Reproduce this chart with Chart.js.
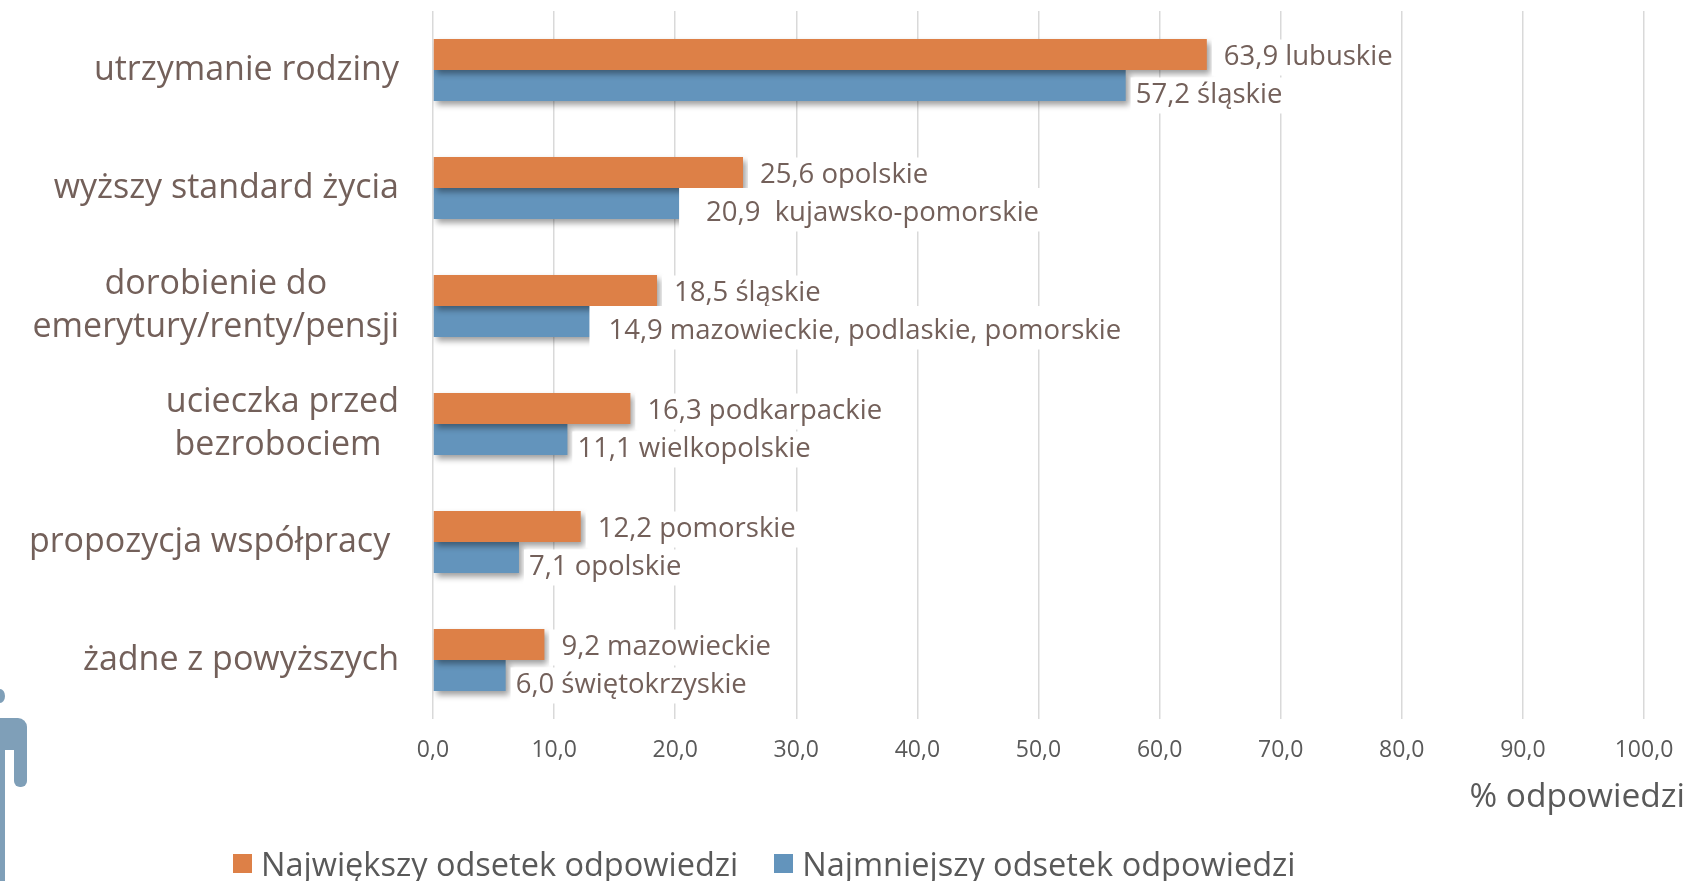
<!DOCTYPE html>
<html lang="pl">
<head>
<meta charset="utf-8">
<title>Powody podjęcia pracy</title>
<script src="https://cdn.jsdelivr.net/npm/chart.js@4.4.1/dist/chart.umd.min.js"></script>
<style>
	body { margin: 0; background: #fff; }
	#wrap { position: relative; width: 1703px; height: 881px; }
	#legend { position: absolute; left: 233px; top: 841px; display: flex; font-family: "Open Sans", sans-serif; font-size: 32.5px; color: #595959; white-space: nowrap; }
	.item { display: flex; align-items: center; margin-right: 36px; }
	.box { width: 19px; height: 19px; margin-right: 9px; }
</style>
</head>
<body>
<div id="wrap">
	<canvas id="chart" width="1703" height="881"></canvas>
	<div id="legend"></div>
</div>
<script>
// **DANE**
const categories = [
	['utrzymanie rodziny'],
	['wyższy standard życia'],
	['dorobienie do', 'emerytury/renty/pensji'],
	['ucieczka przed', 'bezrobociem '],
	['propozycja współpracy '],
	['żadne z powyższych']
];
const seriesNames = ['Największy odsetek odpowiedzi', 'Najmniejszy odsetek odpowiedzi'];
const maxValues = [63.9, 25.6, 18.5, 16.3, 12.2, 9.2];
const minValues = [57.2, 20.9, 14.9, 11.1, 7.1, 6.0];
const maxRegions = ['lubuskie', 'opolskie', 'śląskie', 'podkarpackie', 'pomorskie', 'mazowieckie'];
const minRegions = ['śląskie', ' kujawsko-pomorskie', 'mazowieckie, podlaskie, pomorskie', 'wielkopolskie', 'opolskie', 'świętokrzyskie'];
const axisMin = 0;
const axisMax = 100;
const axisStep = 10;
const axisTitle = '% odpowiedzi';

const ORANGE = '#dd8047';
const BLUE = '#6394bc';
const BROWN = '#73605a';
const GREY = '#595959';
const FONT = '"Open Sans", sans-serif';

// ręcznie przesunięte etykiety (jak w oryginale): [początek tła, początek tekstu] względem końca słupka
const minLabelNudge = { 1: [-7, 20], 2: [-24, -5] };

/**
 * Formatuje liczbę z przecinkiem dziesiętnym.
 * @param {number} v - Wartość.
 * @returns {string}
 */
function fmt(v) {
	return v.toFixed(1).replace('.', ',');
}

// **PLUGINY**
// Cień pod słupkami i etykiety wartości z białym tłem
const barExtras = {
	id: 'barExtras',
	beforeDatasetsDraw(chart) {
		const ctx = chart.ctx;
		ctx.save();
		ctx.shadowColor = 'rgba(0,0,0,0.38)';
		ctx.shadowBlur = 6;
		ctx.shadowOffsetX = 3;
		ctx.shadowOffsetY = 4;
	},
	afterDatasetsDraw(chart) {
		const ctx = chart.ctx;
		ctx.restore();
		const regions = [maxRegions, minRegions];
		const gaps = [17, 10];
		const dy = [3, 10];
		ctx.save();
		ctx.font = '27.5px ' + FONT;
		ctx.textBaseline = 'middle';
		ctx.textAlign = 'left';
		chart.data.datasets.forEach((ds, i) => {
			chart.getDatasetMeta(i).data.forEach((bar, j) => {
				const text = fmt(ds.data[j]) + ' ' + regions[i][j];
				const w = ctx.measureText(text).width;
				const ty = bar.y + dy[i];
				let boxX = bar.x + 5;
				let textX = bar.x + gaps[i];
				let boxTop = ty - 18;
				if (i === 1 && minLabelNudge[j]) {
					boxX = bar.x + minLabelNudge[j][0];
					textX = bar.x + minLabelNudge[j][1];
					boxTop = bar.y - bar.height / 2;
				}
				ctx.fillStyle = '#fff';
				ctx.fillRect(boxX, boxTop, textX - boxX + w + 6, ty + 18 - boxTop);
				ctx.fillStyle = BROWN;
				ctx.fillText(text, textX, ty);
			});
		});
		ctx.restore();
	},
	afterDraw(chart) {
		const ctx = chart.ctx;
		const yScale = chart.scales.y;
		ctx.save();
		// etykiety kategorii (wyśrodkowane w bloku, blok do prawej)
		ctx.font = '34px ' + FONT;
		ctx.fillStyle = BROWN;
		ctx.textAlign = 'center';
		ctx.textBaseline = 'middle';
		const right = yScale.right - 34;
		categories.forEach((lines, i) => {
			const y = yScale.getPixelForTick(i);
			const maxW = Math.max(...lines.map(l => ctx.measureText(l).width));
			const cx = right - maxW / 2;
			lines.forEach((l, k) => {
				ctx.fillText(l, cx, y + (k - (lines.length - 1) / 2) * 43);
			});
		});
		// tytuł osi X
		ctx.font = '33.5px ' + FONT;
		ctx.fillStyle = GREY;
		ctx.textAlign = 'right';
		ctx.fillText(axisTitle, 1685, 797);
		// sylwetka przy lewej krawędzi (ozdobnik)
		ctx.fillStyle = '#7f9fb8';
		ctx.beginPath();
		ctx.ellipse(0, 696, 5, 7, 0, 0, Math.PI * 2);
		ctx.fill();
		ctx.beginPath();
		ctx.roundRect(-10, 718, 37, 32, [0, 9, 0, 0]);
		ctx.fill();
		ctx.beginPath();
		ctx.roundRect(14, 740, 13, 47, [0, 0, 6, 6]);
		ctx.fill();
		ctx.fillRect(0, 740, 5, 141);
		ctx.restore();
	}
};

// **WYKRES**
function init() {
	const chart = new Chart(document.getElementById('chart'), {
		type: 'bar',
		data: {
			labels: categories,
			datasets: [
				{ label: seriesNames[0], data: maxValues, backgroundColor: ORANGE },
				{ label: seriesNames[1], data: minValues, backgroundColor: BLUE }
			]
		},
		options: {
			indexAxis: 'y',
			responsive: false,
			animation: false,
			categoryPercentage: 0.525,
			barPercentage: 1.0,
			layout: { padding: { top: 11, right: 59, left: 0, bottom: 0 } },
			plugins: { legend: { display: false }, tooltip: { enabled: false } },
			scales: {
				x: {
					min: axisMin,
					max: axisMax,
					border: { display: false },
					grid: { color: '#d9d9d9', lineWidth: 1.5, drawTicks: false },
					ticks: {
						stepSize: axisStep,
						padding: 18,
						color: GREY,
						font: { family: FONT, size: 23 },
						callback: v => fmt(v)
					},
					afterFit: s => { s.height = 162; }
				},
				y: {
					border: { display: false },
					grid: { display: false },
					ticks: { display: false },
					afterFit: s => { s.width = 433; }
				}
			}
		},
		plugins: [barExtras]
	});

	// legenda HTML
	const legend = document.getElementById('legend');
	chart.data.datasets.forEach(ds => {
		const item = document.createElement('div');
		item.className = 'item';
		item.innerHTML = '<span class="box" style="background:' + ds.backgroundColor + '"></span>' + ds.label;
		legend.appendChild(item);
	});
}

document.addEventListener('DOMContentLoaded', init);
</script>
</body>
</html>
